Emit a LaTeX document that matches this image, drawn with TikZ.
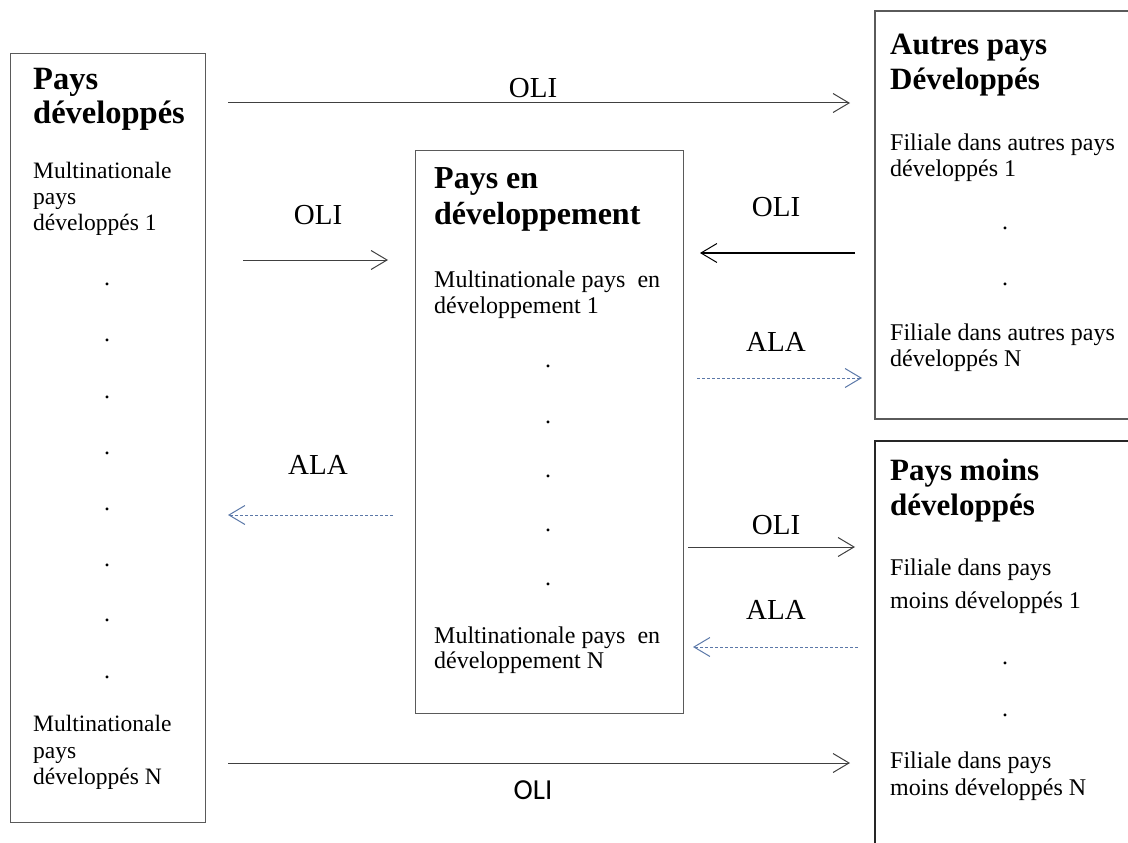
\documentclass[tikz,border=0pt]{standalone}
\usepackage{fontspec}
\setmainfont{Liberation Serif}
\newfontfamily\carlitofont{Carlito}
\usetikzlibrary{arrows.meta}
\definecolor{boxgray}{HTML}{5A5A5A}
\definecolor{arrgray}{HTML}{404040}
\definecolor{dotblue}{HTML}{5B78A8}
\tikzset{
  boxnode/.style={draw=boxgray, line width=1.3pt, inner sep=0pt, anchor=north west},
  openbox/.style={draw=boxgray, line width=1.3pt},
  body/.style={anchor=base west, inner sep=0pt, font=\fontsize{24}{26}\selectfont},
  lbody/.style={body, font=\fontsize{23.5}{26}\selectfont},
  head/.style={anchor=base west, inner sep=0pt, font=\fontsize{31}{33}\selectfont\bfseries},
  lhead/.style={head, font=\fontsize{32.5}{34}\selectfont\bfseries},
  mhead/.style={head, font=\fontsize{32}{34}\selectfont\bfseries},
  dotnode/.style={anchor=base, inner sep=0pt, font=\fontsize{24}{26}\selectfont},
  lbl/.style={inner sep=0pt, font=\fontsize{29}{31}\selectfont},
  sanslbl/.style={inner sep=0pt, font=\fontsize{29}{31}\selectfont\carlitofont},
  barb/.tip={Straight Barb[length=16pt,width=19pt,line width=1pt]},
  oli/.style={draw=arrgray, line width=1pt, -barb},
  ala/.style={draw=dotblue, line width=1pt, dash pattern=on 3pt off 2pt, -barb}
}
\begin{document}
\begin{tikzpicture}[x=1pt,y=-1pt]
\useasboundingbox (0,0) rectangle (1128,843);
% boxes
\node[boxnode, minimum width=195pt, minimum height=769pt] (dev) at (10,53) {};
\node[boxnode, minimum width=268pt, minimum height=563pt] (pvd) at (415,150) {};
\coordinate (trA) at (1128,11);
\coordinate (trB) at (875,11);
\coordinate (trC) at (875,419);
\coordinate (trD) at (1128,419);
\draw[openbox] (trA) -- (trB) -- (trC) -- (trD);
\coordinate (brA) at (1128,441);
\coordinate (brB) at (875,441);
\coordinate (brC) at (875,843);
\draw[openbox, draw=black!85] (brA) -- (brB) -- (brC);

% left box text
\node[lhead] (l1) at (33,89) {Pays};
\node[lhead] (l2) at (33,124) {développés};
\node[lbody] (l3) at (33,178) {Multinationale};
\node[lbody] (l4) at (33,204) {pays};
\node[lbody] (l5) at (33,230) {développés 1};
\foreach \y [count=\i] in {282,338,395,451,507,563,618,675}
  \node[dotnode] (ld\i) at (107,\y+3) {.};
\node[lbody] (l6) at (33,731) {Multinationale};
\node[lbody] (l7) at (33,758) {pays};
\node[lbody] (l8) at (33,784) {développés N};

% middle box text
\node[mhead] (m1) at (434,188) {Pays en};
\node[mhead] (m2) at (434,224) {développement};
\node[body] (m3) at (434,287) {Multinationale pays \ en};
\node[body] (m4) at (434,313) {développement 1};
\foreach \y [count=\i] in {364,420,474,528,582}
  \node[dotnode] (md\i) at (548,\y+3) {.};
\node[body] (m5) at (434,643) {Multinationale pays \ en};
\node[body] (m6) at (434,668) {développement N};

% top right text
\node[head] (t1) at (890,55) {Autres pays};
\node[head] (t2) at (890,90) {Développés};
\node[body] (t3) at (890,150) {Filiale dans autres pays};
\node[body] (t4) at (890,176) {développés 1};
\foreach \y [count=\i] in {226,282}
  \node[dotnode] (td\i) at (1005,\y+3) {.};
\node[body] (t5) at (890,340) {Filiale dans autres pays};
\node[body] (t6) at (890,366) {développés N};

% bottom right text
\node[head] (b1) at (890,480) {Pays moins};
\node[head] (b2) at (890,515) {développés};
\node[body] (b3) at (890,575) {Filiale dans pays};
\node[body] (b4) at (890,608) {moins développés 1};
\foreach \y [count=\i] in {661,713}
  \node[dotnode] (bd\i) at (1005,\y+3) {.};
\node[body] (b5) at (890,768) {Filiale dans pays};
\node[body] (b6) at (890,795) {moins développés N};

% arrows
\coordinate (a1s) at (228,103); \coordinate (a1e) at (850,103);
\draw[oli] (a1s) -- (a1e);
\node[lbl] (a1l) at (533,88) {OLI};

\coordinate (a2s) at (243,260); \coordinate (a2e) at (388,260);
\draw[oli] (a2s) -- (a2e);
\node[lbl] (a2l) at (318,215) {OLI};

\coordinate (a3s) at (855,253); \coordinate (a3e) at (700,253);
\draw[oli, draw=black, line width=1.3pt] (a3s) -- (a3e);
\node[lbl] (a3l) at (776,207) {OLI};

\coordinate (a4s) at (697,378); \coordinate (a4e) at (862,378);
\draw[ala] (a4s) -- (a4e);
\node[lbl] (a4l) at (776,342) {ALA};

\coordinate (a5s) at (393,515); \coordinate (a5e) at (228,515);
\draw[ala] (a5s) -- (a5e);
\node[lbl] (a5l) at (318,465) {ALA};

\coordinate (a6s) at (688,547); \coordinate (a6e) at (855,547);
\draw[oli] (a6s) -- (a6e);
\node[lbl] (a6l) at (776,525) {OLI};

\coordinate (a7s) at (858,647); \coordinate (a7e) at (693,647);
\draw[ala] (a7s) -- (a7e);
\node[lbl] (a7l) at (776,610) {ALA};

\coordinate (a8s) at (228,763); \coordinate (a8e) at (850,763);
\draw[oli] (a8s) -- (a8e);
\node[sanslbl] (a8l) at (533,790) {OLI};
\end{tikzpicture}
\end{document}
